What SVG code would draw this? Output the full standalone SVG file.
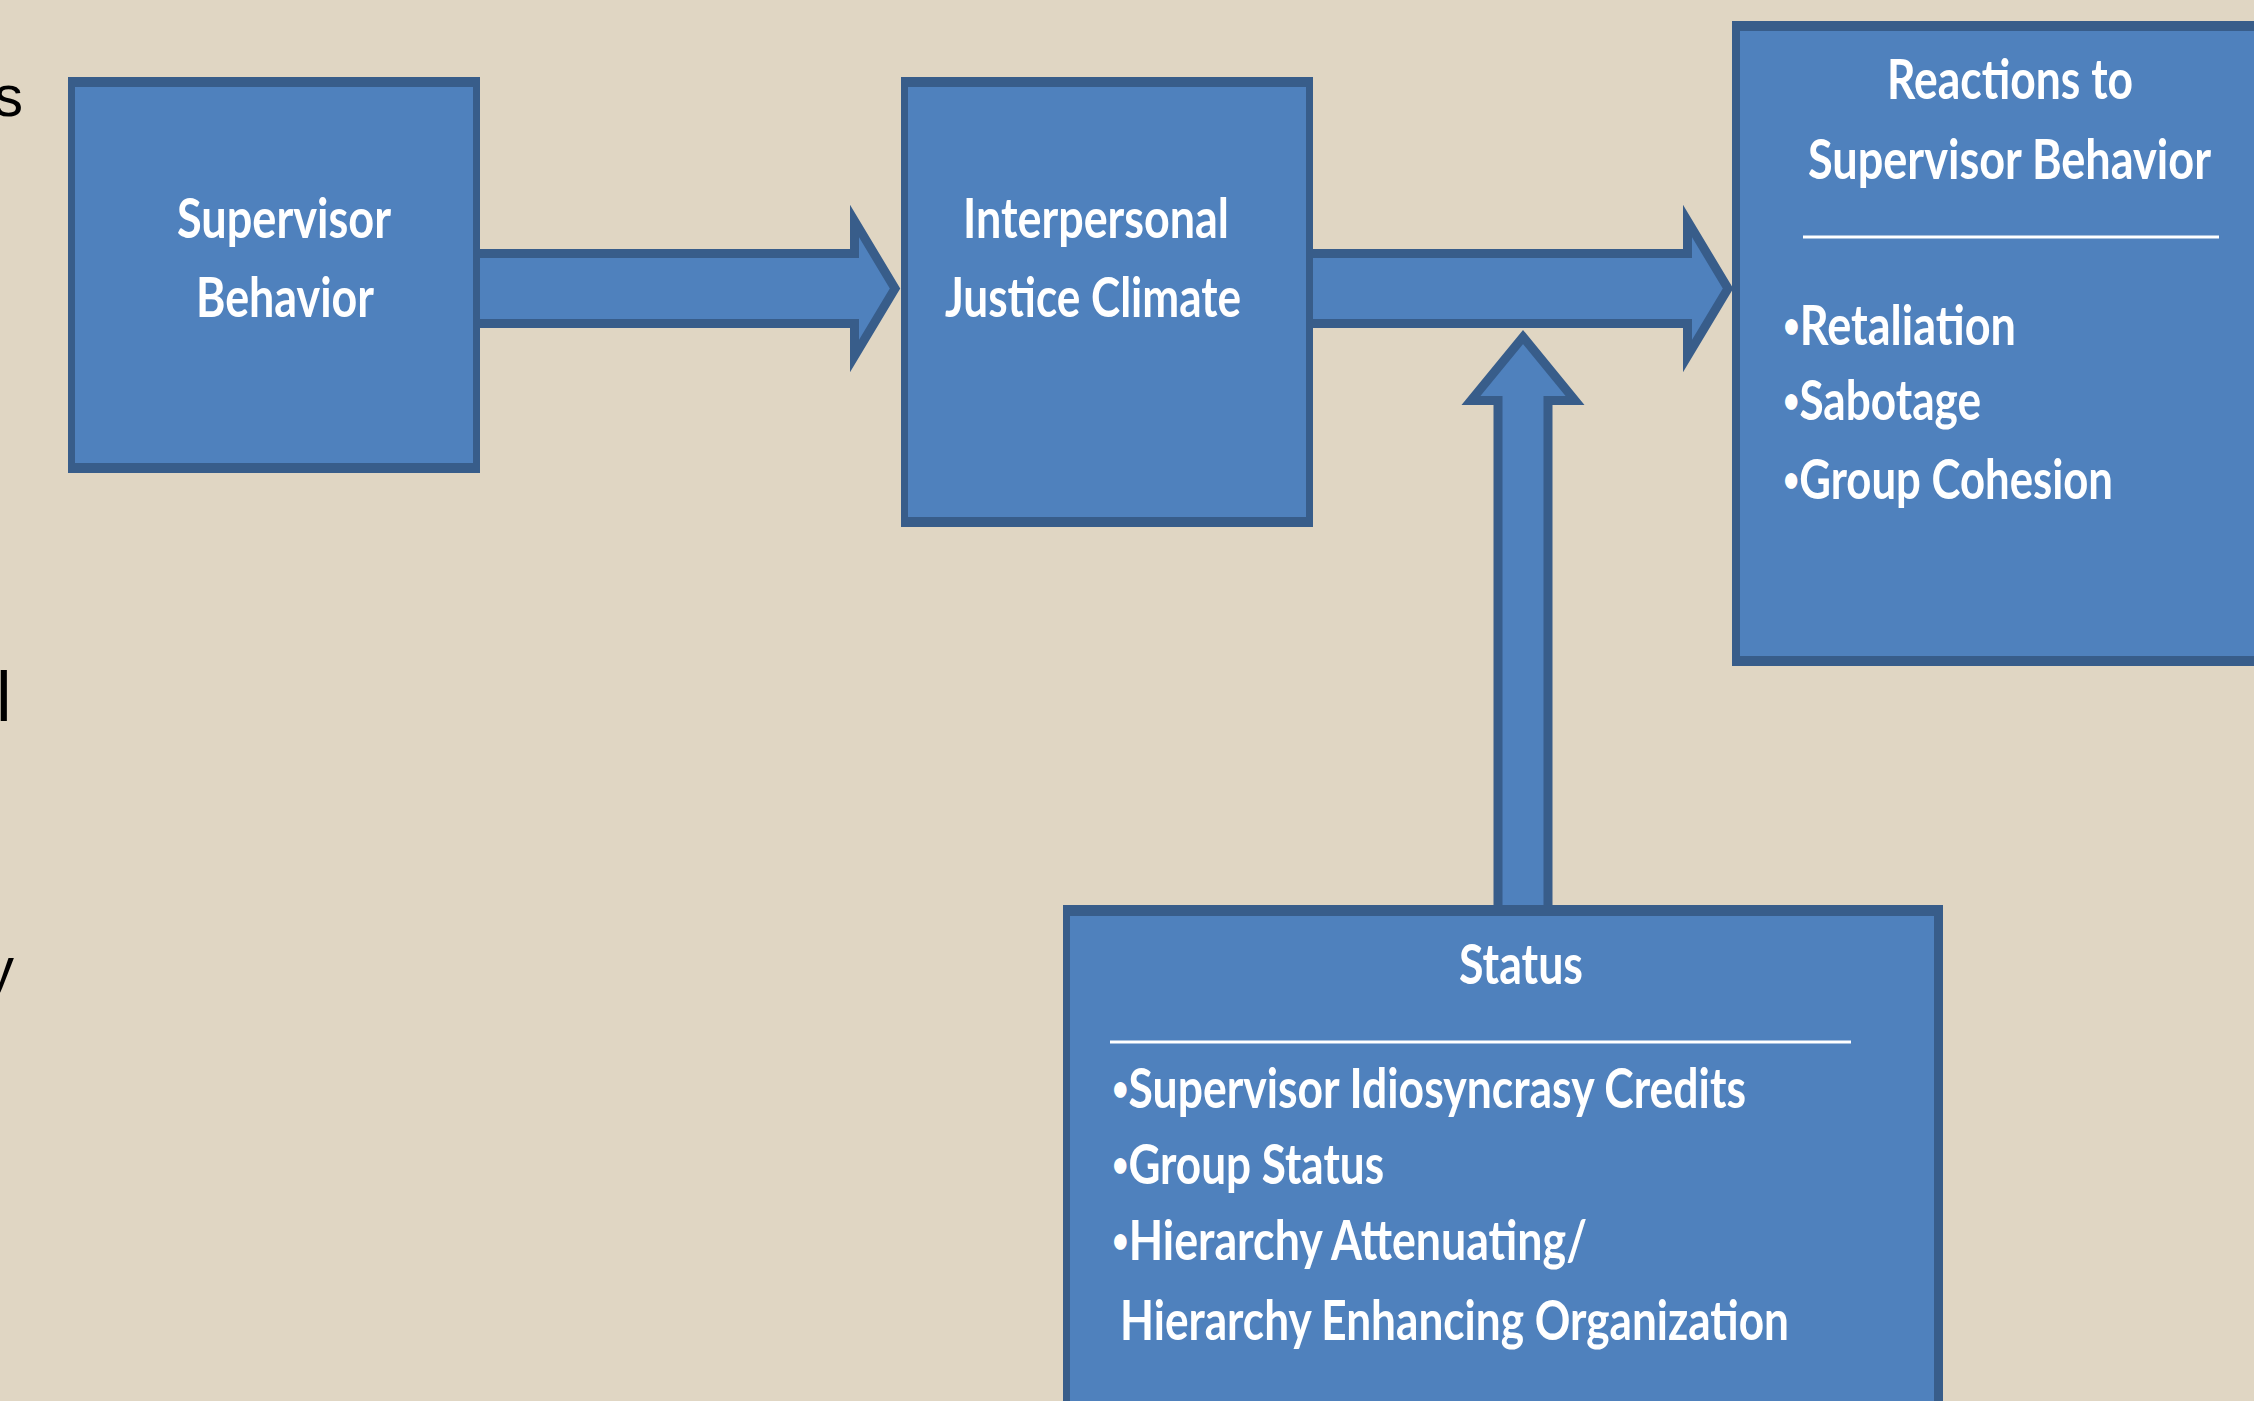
<svg xmlns="http://www.w3.org/2000/svg" width="2254" height="1401" viewBox="0 0 2254 1401">
  <style>
    .bg { fill: #E0D6C3; }
    .border { fill: #385D8A; }
    .fill { fill: #4F81BD; }
    .arrow { fill: #4F81BD; stroke: #385D8A; stroke-width: 9; stroke-linejoin: miter; stroke-miterlimit: 10; }
    .t { font-family: Lato, "Open Sans", "Liberation Sans", sans-serif; font-weight: bold; font-size: 56px; fill: #FFFFFF; }
    .b { font-size: 36px; }
    .rule { stroke: #FFFFFF; stroke-width: 3; }
    .frag { font-family: "Liberation Sans", Arial, sans-serif; font-size: 58px; fill: #000000; }
  </style>
  <rect class="bg" x="0" y="0" width="2254" height="1401"/>

  <g id="fragments">
    <text class="frag" x="23" y="116" text-anchor="end">s</text>
    <text class="frag" x="-4" y="721" style="font-size:70px">l</text>
    <text class="frag" x="14" y="988" text-anchor="end">y</text>
  </g>

  <g id="connectors">
    <polygon class="arrow" points="470,253.5 854.5,253.5 854.5,221 895,288.5 854.5,356 854.5,323.5 470,323.5"/>
    <polygon class="arrow" points="1300,253.5 1687.5,253.5 1687.5,221 1728,288.5 1687.5,356 1687.5,323.5 1300,323.5"/>
    <polygon class="arrow" points="1498,915 1498,400.5 1471,400.5 1523,337 1575,400.5 1548,400.5 1548,915"/>
  </g>

  <g id="supervisor-behavior">
    <rect class="border" x="68" y="77" width="412" height="396"/>
    <rect class="fill" x="75" y="87" width="398" height="376"/>
    <text class="t" x="177" y="238" textLength="214" lengthAdjust="spacingAndGlyphs">Supervisor</text>
    <text class="t" x="196" y="317" textLength="178" lengthAdjust="spacingAndGlyphs">Behavior</text>
  </g>

  <g id="interpersonal-justice-climate">
    <rect class="border" x="901" y="77" width="412" height="450"/>
    <rect class="fill" x="908" y="87" width="398" height="430"/>
    <text class="t" x="963" y="238" textLength="266" lengthAdjust="spacingAndGlyphs">Interpersonal</text>
    <text class="t" x="945" y="317" textLength="296" lengthAdjust="spacingAndGlyphs">Justice Climate</text>
  </g>

  <g id="reactions">
    <rect class="border" x="1732" y="21" width="540" height="645"/>
    <rect class="fill" x="1740" y="31" width="530" height="625"/>
    <text class="t" x="1887" y="99" textLength="246" lengthAdjust="spacingAndGlyphs">Reactions to</text>
    <text class="t" x="1808" y="179" textLength="403" lengthAdjust="spacingAndGlyphs">Supervisor Behavior</text>
    <line class="rule" x1="1803" y1="237" x2="2219" y2="237"/>
    <text class="t" x="1783" y="345" textLength="233" lengthAdjust="spacingAndGlyphs"><tspan class="b" dy="-7">•</tspan><tspan dy="7">Retaliation</tspan></text>
    <text class="t" x="1783" y="420" textLength="198" lengthAdjust="spacingAndGlyphs"><tspan class="b" dy="-7">•</tspan><tspan dy="7">Sabotage</tspan></text>
    <text class="t" x="1783" y="499" textLength="330" lengthAdjust="spacingAndGlyphs"><tspan class="b" dy="-7">•</tspan><tspan dy="7">Group Cohesion</tspan></text>
  </g>

  <g id="status">
    <rect class="border" x="1063" y="905" width="880" height="520"/>
    <rect class="fill" x="1070" y="916" width="864" height="500"/>
    <text class="t" x="1459" y="984" textLength="124" lengthAdjust="spacingAndGlyphs">Status</text>
    <line class="rule" x1="1110" y1="1042" x2="1851" y2="1042"/>
    <text class="t" x="1112" y="1108" textLength="634" lengthAdjust="spacingAndGlyphs"><tspan class="b" dy="-7">•</tspan><tspan dy="7">Supervisor Idiosyncrasy Credits</tspan></text>
    <text class="t" x="1112" y="1184" textLength="272" lengthAdjust="spacingAndGlyphs"><tspan class="b" dy="-7">•</tspan><tspan dy="7">Group Status</tspan></text>
    <text class="t" x="1112" y="1260" textLength="475" lengthAdjust="spacingAndGlyphs"><tspan class="b" dy="-7">•</tspan><tspan dy="7">Hierarchy Attenuating/</tspan></text>
    <text class="t" x="1120" y="1340" textLength="669" lengthAdjust="spacingAndGlyphs">Hierarchy Enhancing Organization</text>
  </g>
</svg>
